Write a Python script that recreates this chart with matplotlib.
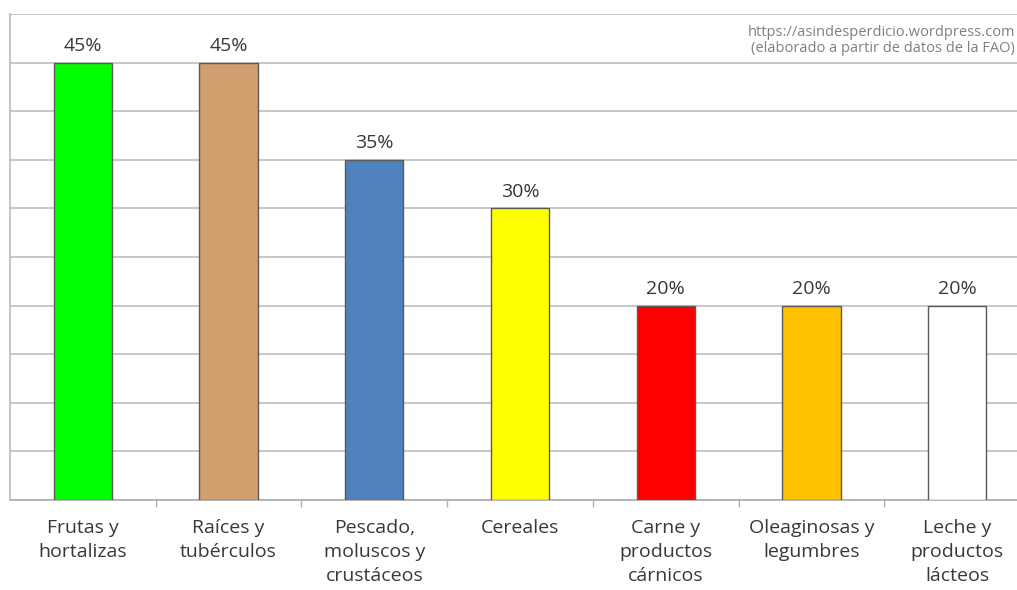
import numpy as np
import matplotlib.pyplot as plt

# Porcentaje de desperdicio por grupo de alimentos
categories = ["Frutas y\nhortalizas", "Raíces y\ntubérculos", "Pescado,\nmoluscos y\ncrustáceos",
              "Cereales", "Carne y\nproductos\ncárnicos", "Oleaginosas y\nlegumbres",
              "Leche y\nproductos\nlácteos"]
values = [45, 45, 35, 30, 20, 20, 20]
colors = ["#00FF00", "#D2A06F", "#4F81BD", "#FFFF00", "#FF0000", "#FFC000", "#FFFFFF"]

plt.rcParams['font.family'] = ['Open Sans', 'DejaVu Sans']

fig = plt.figure(figsize=(10.17, 5.9), dpi=100)
ax = fig.add_axes([10 / 1017, 90 / 590, 1 - 10 / 1017, 486 / 590])

x = np.arange(len(categories))
ax.bar(x, values, width=0.4, color=colors, edgecolor="#5a5a5a", linewidth=1.0, zorder=3)

for xi, v in zip(x, values):
    ax.text(xi, v + 0.8, f"{v}%", ha="center", va="bottom", fontsize=14, color="#383838")

ax.set_xlim(-0.5, 6.41)
ax.set_ylim(0, 50)
ax.set_yticks(np.arange(0, 51, 5))
ax.set_yticklabels([])
ax.tick_params(axis="y", length=0)
ax.grid(axis="y", color="#c4c4c4", linewidth=1.3, zorder=0)

ax.set_xticks(x)
ax.set_xticklabels(categories, fontsize=14, color="#383838", linespacing=1.42)
ax.tick_params(axis="x", length=0, pad=14)
ax.set_xticks(np.arange(0.5, 6.5, 1), minor=True)
ax.tick_params(axis="x", which="minor", length=5, color="#b0b0b0", width=1)

for side in ["top", "right"]:
    ax.spines[side].set_visible(False)
ax.spines["left"].set_color("#c0c0c0")
ax.spines["bottom"].set_color("#b0b0b0")
ax.spines["left"].set_linewidth(1.3)
ax.spines["bottom"].set_linewidth(1.3)

ax.text(0.998, 0.978, "https://asindesperdicio.wordpress.com\n(elaborado a partir de datos de la FAO)",
        transform=ax.transAxes, ha="right", va="top", fontsize=10.5, color="#808080", linespacing=1.1)

fig.savefig("out.png", dpi=100)
